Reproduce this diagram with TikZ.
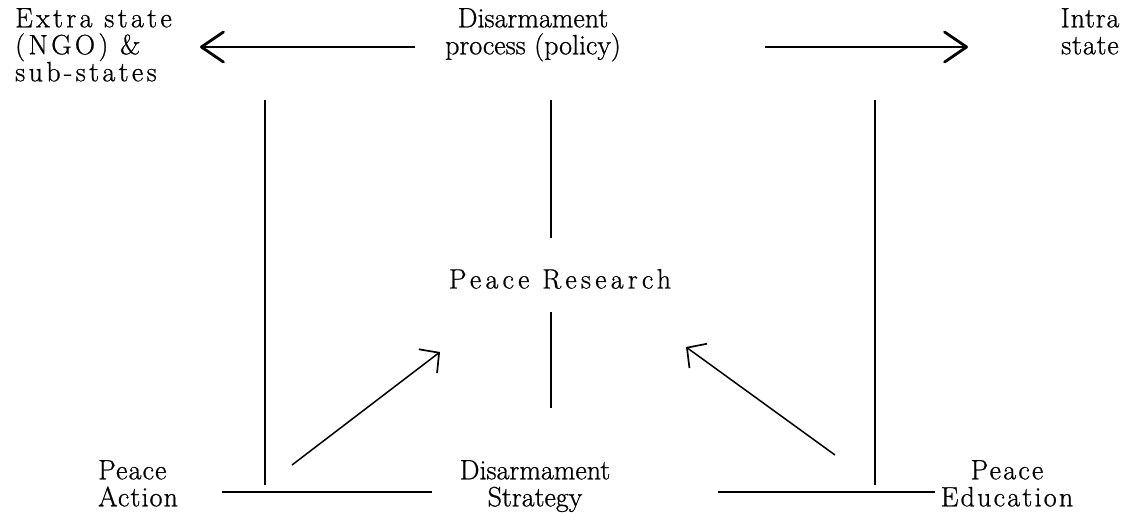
\documentclass[tikz,border=0pt]{standalone}
\usepackage{fontspec}
\setmainfont{Latin Modern Roman}[FakeBold=0.8]
\usetikzlibrary{arrows.meta}
\tikzset{
  lbl/.style={inner sep=0pt, font=\fontsize{28}{27}\selectfont\addfontfeatures{LetterSpace=#1}},
  lbl/.default=0,
  ln/.style={line width=1.5pt},
  bigarr/.style={ln, -{Straight Barb[length=22pt,width=30pt,line width=2.8pt,round]}},
  smallarr/.style={ln, -{Straight Barb[length=14pt,width=30pt,line width=1.7pt]}},
}
\begin{document}
\begin{tikzpicture}[x=1pt,y=-1pt]
\useasboundingbox (0,0) rectangle (1133,513);
% text nodes
\node[lbl=12, align=left, anchor=north west] (ext) at (15,8) {Extra state\\(NGO) \&\\sub-states};
\node[lbl=0, align=center, anchor=north] (dproc) at (533,8) {Disarmament\\process (policy)};
\node[lbl=3, align=center, anchor=north] (intra) at (1090,8) {Intra\\state};
\node[lbl=15] (pres) at (560,279) {Peace Research};
\node[lbl=4, align=left, anchor=north west] (action) at (98,460) {Peace\\Action};
\node[lbl=0, align=center, anchor=north] (strat) at (535,460) {Disarmament\\Strategy};
\node[lbl=8, align=center, anchor=north] (educ) at (1007,460) {Peace\\Education};
% coordinates
\coordinate (tlS) at (415,47); \coordinate (tlE) at (200,47);
\coordinate (trS) at (765,47); \coordinate (trE) at (968,47);
\coordinate (vlT) at (265,100); \coordinate (vlB) at (265,485);
\coordinate (vc1T) at (551,100); \coordinate (vc1B) at (551,238);
\coordinate (vc2T) at (551,312); \coordinate (vc2B) at (551,408);
\coordinate (vrT) at (875,100); \coordinate (vrB) at (875,485);
\coordinate (dlS) at (292,465); \coordinate (dlE) at (440,352);
\coordinate (drS) at (835,455); \coordinate (drE) at (686,347);
\coordinate (hlA) at (222,492); \coordinate (hlB) at (432,492);
\coordinate (hrA) at (718,492); \coordinate (hrB) at (935,492);
% connectors
\draw[bigarr] (tlS) -- (tlE);
\draw[bigarr] (trS) -- (trE);
\draw[ln] (vlT) -- (vlB);
\draw[ln] (vc1T) -- (vc1B);
\draw[ln] (vc2T) -- (vc2B);
\draw[ln] (vrT) -- (vrB);
\draw[smallarr] (dlS) -- (dlE);
\draw[smallarr] (drS) -- (drE);
\draw[ln] (hlA) -- (hlB);
\draw[ln] (hrA) -- (hrB);
\end{tikzpicture}
\end{document}
